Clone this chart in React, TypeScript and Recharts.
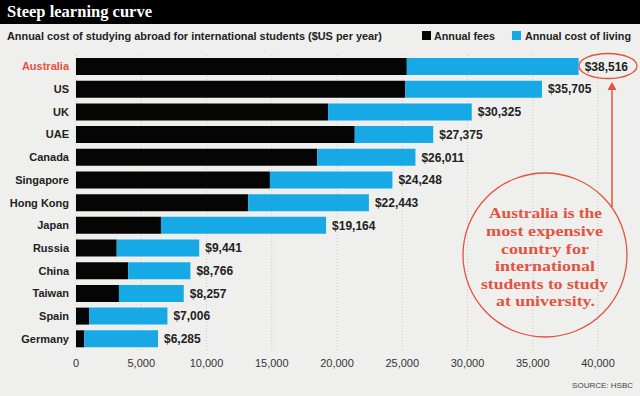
import React from "react";
import { BarChart, Bar, XAxis, YAxis, CartesianGrid, LabelList } from "recharts";

const countries = [
  "Australia",
  "US",
  "UK",
  "UAE",
  "Canada",
  "Singapore",
  "Hong Kong",
  "Japan",
  "Russia",
  "China",
  "Taiwan",
  "Spain",
  "Germany",
];
// annual fees (black part)
const fees = [25350, 25220, 19320, 21360, 18480, 14860, 13200, 6510, 3120, 4000, 3290, 1000, 640];
// total cost printed at the end of each bar
const totals = [38516, 35705, 30325, 27375, 26011, 24248, 22443, 19164, 9441, 8766, 8257, 7006, 6285];
const xTicks = [0, 5000, 10000, 15000, 20000, 25000, 30000, 35000, 40000];

const BLUE = "#17a8e6";
const RED = "#e4533f";
const SANS = "'Liberation Sans', Arial, sans-serif";
const SERIF = "'Liberation Serif', 'DejaVu Serif', serif";

const data = countries.map((c, i) => ({
  country: c,
  fees: fees[i],
  living: totals[i] - fees[i],
  total: totals[i],
}));

const CountryTick = ({ x, y, payload }: any) => (
  <text
    x={x}
    y={y}
    textAnchor="end"
    dominantBaseline="central"
    fontFamily={SANS}
    fontSize={11}
    fontWeight={700}
    fill={payload.value === "Australia" ? RED : "#222"}
  >
    {payload.value}
  </text>
);

const noteLines = [
  { t: "Australia is the", y: 213, x1: 489, x2: 602 },
  { t: "most expensive", y: 231, x1: 486, x2: 603 },
  { t: "country for", y: 249, x1: 501, x2: 589 },
  { t: "international", y: 266, x1: 495, x2: 595 },
  { t: "students to study", y: 284, x1: 481, x2: 608 },
  { t: "at university.", y: 301, x1: 496, x2: 595 },
];

export default function App() {
  return (
    <div
      style={{
        position: "absolute",
        left: 0,
        top: 0,
        width: 640,
        height: 396,
        background: "#efefed",
        overflow: "hidden",
      }}
    >
      <BarChart
        width={640}
        height={396}
        data={data}
        layout="vertical"
        margin={{ top: 55, right: 42, bottom: 0, left: 0 }}
        barSize={17}
        style={{ position: "absolute", left: 0, top: 0 }}
      >
        <CartesianGrid horizontal={false} strokeDasharray="1 2" stroke="#c9c9c9" />
        <XAxis
          type="number"
          domain={[0, 40000]}
          ticks={xTicks}
          tickFormatter={(v: number) => v.toLocaleString("en-US")}
          axisLine={false}
          tickLine={false}
          tickSize={0}
          tickMargin={9}
          height={46}
          tick={{ fontFamily: SANS, fontSize: 11, fill: "#333" }}
        />
        <YAxis
          type="category"
          dataKey="country"
          width={76}
          axisLine={false}
          tickLine={false}
          tickSize={0}
          tickMargin={7}
          interval={0}
          tick={<CountryTick />}
        />
        <Bar dataKey="fees" stackId="a" fill="#050505" isAnimationActive={false} />
        <Bar dataKey="living" stackId="a" fill={BLUE} isAnimationActive={false}>
          <LabelList
            dataKey="total"
            position="right"
            offset={6}
            formatter={(v: any) => "$" + Number(v).toLocaleString("en-US")}
            style={{ fontFamily: SANS, fontSize: 12, fontWeight: 700, fill: "#222" }}
          />
        </Bar>
      </BarChart>

      <svg
        width={640}
        height={396}
        style={{ position: "absolute", left: 0, top: 0, pointerEvents: "none" }}
      >
        {/* title bar */}
        <rect x={0} y={0} width={640} height={24} fill="#000" />
        <text
          x={7}
          y={17}
          fill="#fff"
          fontFamily={SERIF}
          fontWeight={700}
          fontSize={17}
          textLength={145}
          lengthAdjust="spacingAndGlyphs"
        >
          Steep learning curve
        </text>
        <text
          x={7}
          y={40}
          fill="#222"
          fontFamily={SANS}
          fontWeight={700}
          fontSize={10.5}
          textLength={375}
          lengthAdjust="spacingAndGlyphs"
        >
          Annual cost of studying abroad for international students ($US per year)
        </text>

        {/* legend */}
        <rect x={422} y={31} width={9} height={9} fill="#050505" />
        <text x={434} y={40} fill="#222" fontFamily={SANS} fontWeight={700} fontSize={11} textLength={61} lengthAdjust="spacingAndGlyphs">
          Annual fees
        </text>
        <rect x={512} y={31} width={9} height={9} fill={BLUE} />
        <text x={525} y={40} fill="#222" fontFamily={SANS} fontWeight={700} fontSize={11} textLength={106} lengthAdjust="spacingAndGlyphs">
          Annual cost of living
        </text>

        {/* highlight around Australia total */}
        <ellipse cx={608} cy={66} rx={29} ry={12.5} fill="none" stroke={RED} strokeWidth={1.3} />

        {/* arrow from note up to Australia */}
        <line x1={612} y1={207} x2={612} y2={88} stroke={RED} strokeWidth={1.5} />
        <path d="M607.5,90 L612,82 L616.5,90 Z" fill={RED} />

        {/* note */}
        <circle cx={545} cy={255} r={82} fill="none" stroke={RED} strokeWidth={1.3} />
        {noteLines.map((l) => (
          <text
            key={l.t}
            x={l.x1}
            y={l.y + 5}
            fill={RED}
            fontFamily={SERIF}
            fontWeight={700}
            fontSize={15}
            textLength={l.x2 - l.x1}
            lengthAdjust="spacingAndGlyphs"
          >
            {l.t}
          </text>
        ))}

        <text x={633} y={388} textAnchor="end" fill="#444" fontFamily={SANS} fontSize={8}>
          SOURCE: HSBC
        </text>
      </svg>
    </div>
  );
}
